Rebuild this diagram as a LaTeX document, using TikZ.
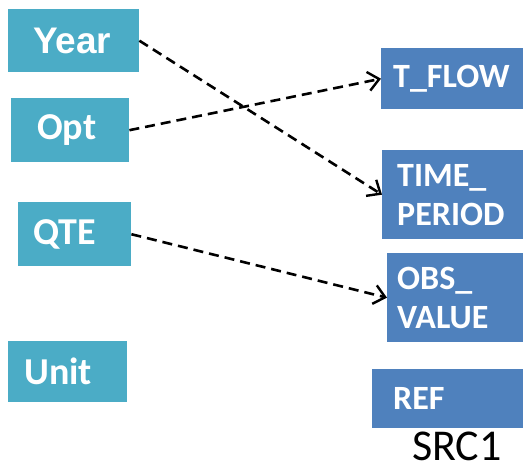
\documentclass[tikz,border=0pt]{standalone}
\usepackage{fontspec}
\setmainfont{Carlito}
\newfontfamily\arialfont{Liberation Sans}
\usetikzlibrary{arrows.meta}
\definecolor{srcteal}{RGB}{75,172,198}
\definecolor{dstblue}{RGB}{79,129,189}
\tikzset{
	lbox/.style={fill=srcteal, text=white, anchor=north west, align=left, inner ysep=0pt,
		font=\bfseries\fontsize{38}{44}\selectfont},
	rbox/.style={fill=dstblue, text=white, anchor=north west, align=left, inner ysep=0pt,
		font=\bfseries\fontsize{34}{39}\selectfont},
	conn/.style={line width=2.6pt, dash pattern=on 10pt off 6pt,
		-{Straight Barb[length=11pt,width=19pt,line width=2.4pt]}}
}

\begin{document}
\begin{tikzpicture}[x=1pt, y=-1pt]
	\useasboundingbox (0,0) rectangle (523,472);
	% source fields
	\node[lbox, minimum height=63pt, inner xsep=25pt, text width=81pt,
		font=\arialfont\bfseries\fontsize{37}{44}\selectfont] (year) at (8,9) {Year};
	\node[lbox, minimum height=64pt, inner xsep=26pt, text width=66pt] (opt) at (11,98) {Opt};
	\node[lbox, minimum height=64pt, inner xsep=15pt, text width=83pt] (qte) at (18,202) {QTE};
	\node[lbox, minimum height=61pt, inner xsep=16pt, text width=87pt] (unit) at (8,341) {Unit};
	% target fields
	\node[rbox, minimum height=61pt, inner xsep=12pt, text width=118pt] (tflow) at (381,48) {T\_FLOW};
	\node[rbox, minimum height=89pt, inner xsep=15pt, text width=111pt] (period) at (382,150) {TIME\_\\PERIOD};
	\node[rbox, minimum height=89pt, inner xsep=10pt, text width=116pt] (obs) at (387,253) {OBS\_\\VALUE};
	\node[rbox, minimum height=59pt, inner xsep=21pt, text width=109pt] (ref) at (372,369) {REF};
	\node[inner sep=0pt, anchor=base, font=\fontsize{44}{48}\selectfont] (src) at (457,460) {SRC1};
	% mappings
	\draw[conn] (year.east) -- (period.west);
	\draw[conn] (opt.east) -- (tflow.west);
	\draw[conn] (qte.east) -- (obs.west);
\end{tikzpicture}
\end{document}
